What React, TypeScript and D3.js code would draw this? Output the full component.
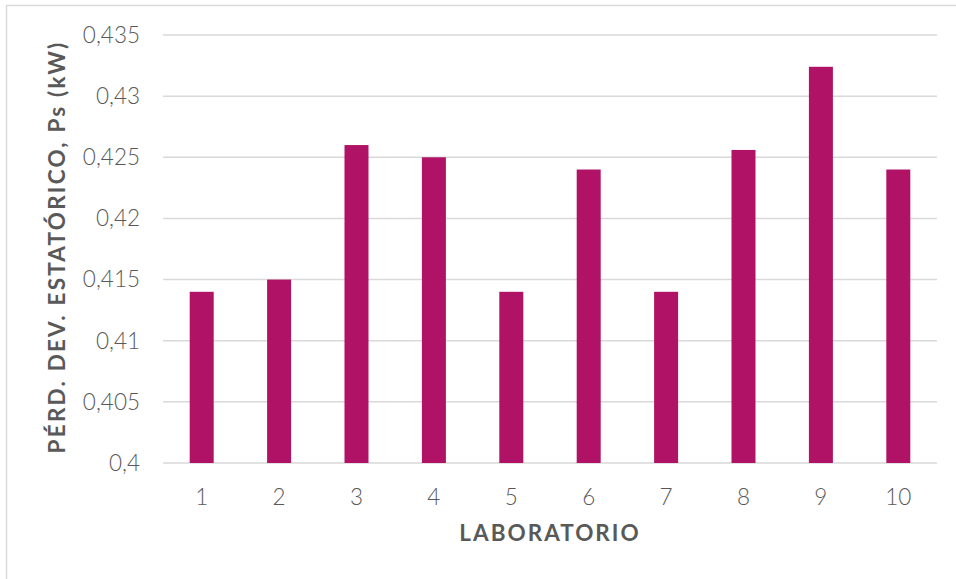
import React from "react";
import * as d3 from "d3";

const categories = ["1", "2", "3", "4", "5", "6", "7", "8", "9", "10"];
const values = [0.414, 0.415, 0.426, 0.425, 0.414, 0.424, 0.414, 0.4256, 0.4324, 0.424];
const yTicks = [0.4, 0.405, 0.41, 0.415, 0.42, 0.425, 0.43, 0.435];
const yTitle = "PÉRD. DEV. ESTATÓRICO, Ps (kW)";
const xTitle = "LABORATORIO";

const W = 956;
const H = 579;
const plot = { left: 163, right: 937, top: 35, bottom: 463 };
const BAR = "#b01265";
const TEXT = "#595959";
const GRID = "#d9d9d9";
const FONT = "Lato, 'Open Sans', sans-serif";

export default function App() {
  const x = d3
    .scaleBand<string>()
    .domain(categories)
    .range([plot.left, plot.right])
    .paddingInner(0.69)
    .paddingOuter(0.345);
  const y = d3.scaleLinear().domain([0.4, 0.435]).range([plot.bottom, plot.top]);
  const fmt = (v: number) => String(+v.toFixed(3)).replace(".", ",");

  return (
    <div style={{ position: "fixed", left: 0, top: 0, width: W, height: H, background: "#fff" }}>
      <svg width={W} height={H} style={{ display: "block" }}>
        <rect x={6.5} y={5.5} width={W + 20} height={H + 20} fill="#fff" stroke={GRID} strokeWidth={1.5} />
        {yTicks.map((t) => (
          <g key={t}>
            <line x1={plot.left} x2={plot.right} y1={y(t)} y2={y(t)} stroke={GRID} strokeWidth={1.5} />
            <text
              x={140}
              y={y(t)}
              dy="0.35em"
              textAnchor="end"
              fontFamily={FONT}
              fontSize={22.5}
              fontWeight={300}
              fill={TEXT}
            >
              {fmt(t)}
            </text>
          </g>
        ))}
        {categories.map((c, i) => (
          <rect
            key={c}
            x={x(c)}
            y={y(values[i])}
            width={x.bandwidth()}
            height={y(0.4) - y(values[i])}
            fill={BAR}
          />
        ))}
        {categories.map((c) => (
          <text
            key={c}
            x={(x(c) as number) + x.bandwidth() / 2}
            y={497}
            dy="0.35em"
            textAnchor="middle"
            fontFamily={FONT}
            fontSize={22.5}
            fontWeight={300}
            fill={TEXT}
          >
            {c}
          </text>
        ))}
        <text
          x={550}
          y={533}
          dy="0.35em"
          textAnchor="middle"
          fontFamily={FONT}
          fontSize={22.5}
          fontWeight={700}
          letterSpacing={2}
          fill={TEXT}
        >
          {xTitle}
        </text>
        <text
          transform={`translate(57, 247) rotate(-90)`}
          dy="0.35em"
          textAnchor="middle"
          fontFamily={FONT}
          fontSize={22.5}
          fontWeight={700}
          letterSpacing={2.2}
          fill={TEXT}
        >
          {yTitle}
        </text>
      </svg>
    </div>
  );
}
